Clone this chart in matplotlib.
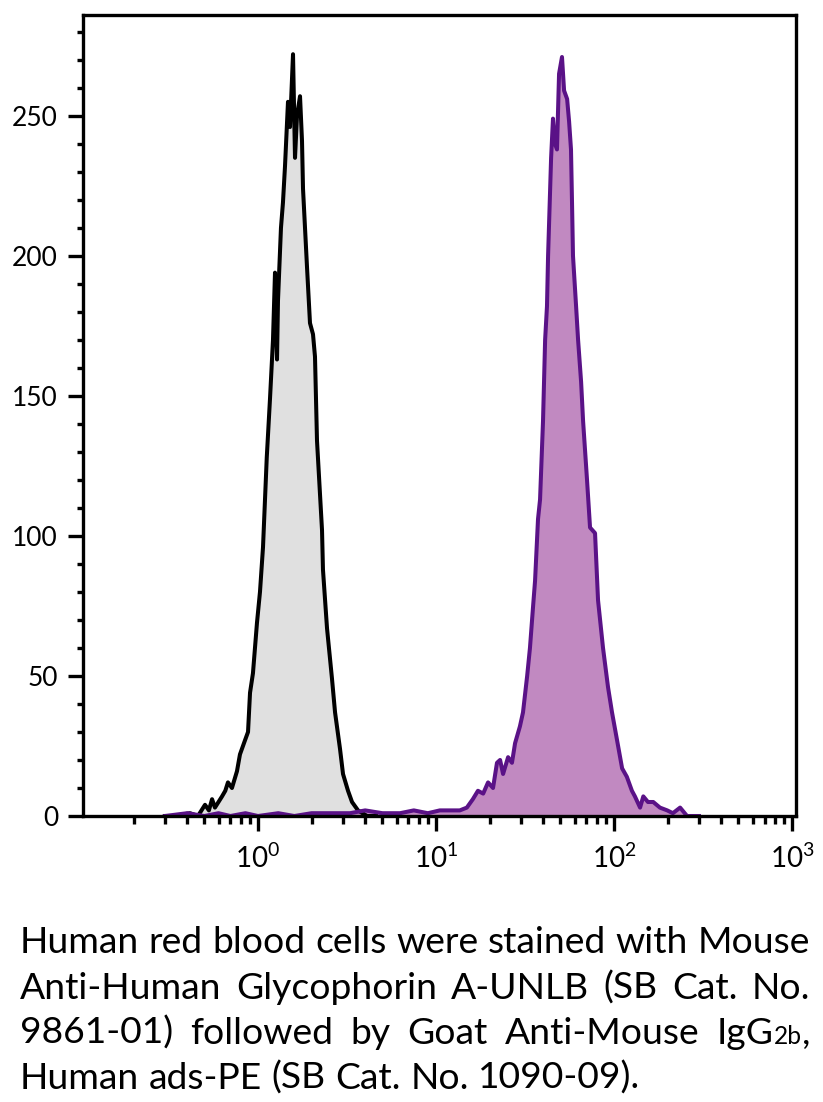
import matplotlib
matplotlib.use("Agg")
import matplotlib.pyplot as plt
from matplotlib.ticker import FixedLocator, FixedFormatter, NullFormatter

FONT = ["Lato", "DejaVu Sans"]

# isotype / unstained control (gray)
ctrl_x = [0.30, 0.342, 0.415, 0.460, 0.504, 0.530, 0.552, 0.573, 0.600, 0.628, 0.655, 0.678,
          0.714, 0.762, 0.792, 0.845, 0.879, 0.902, 0.937, 0.987, 1.026, 1.067, 1.12, 1.168,
          1.214, 1.246, 1.279, 1.295, 1.346, 1.381, 1.418, 1.474, 1.513, 1.573, 1.614, 1.656,
          1.722, 1.767, 1.790, 1.885, 1.959, 2.037, 2.090, 2.145, 2.289, 2.317, 2.442, 2.604,
          2.709, 2.888, 3.003, 3.204, 3.374, 3.646, 4.096, 4.6]
ctrl_y = [0, 0, 1, 0, 4, 2, 6, 3, 5, 7, 9, 12,
          10, 16, 22, 27, 30, 44, 51, 69, 80, 96, 128, 149,
          170, 194, 163, 184, 210, 219, 232, 255, 246, 272, 235, 250,
          257, 241, 224, 196, 176, 172, 164, 134, 102, 88, 67, 49,
          37, 24, 15, 9, 5, 2, 0, 0]

# Glycophorin A stained (purple)
stain_x = [0.30, 0.40, 0.50, 0.60, 0.70, 0.85, 1.0, 1.3, 1.6, 2.0, 2.5, 3.29, 4.0, 5.0,
           6.28, 7.5, 9.0, 10.5, 12.0, 13.6, 14.9, 16.1, 17.2, 18.4, 19.6, 20.9, 22.0,
           22.9, 23.8, 25.4, 26.7, 27.8, 29.6, 30.8, 32.5, 33.7, 35.1, 36.0, 37.4, 38.4,
           39.9, 41.0, 42.0, 42.6, 44.3, 45.4, 46.6, 47.8, 49.1, 51.0, 52.4, 54.5, 55.9,
           57.3, 58.1, 58.8, 61.2, 62.8, 65.3, 67.0, 70.5, 73.3, 78.2, 81.3, 86.7, 92.5,
           97.4, 104, 111, 118, 126, 131, 140, 146, 155, 166, 181, 199, 214, 235, 257, 300]
stain_y = [0, 1, 0, 1, 0, 1, 0, 1, 0, 1, 1, 1, 2, 1,
           1, 2, 1, 2, 2, 2, 3, 6, 9, 8, 12, 10, 19,
           20, 15, 21, 19, 26, 32, 37, 50, 60, 75, 84, 106, 113,
           141, 170, 182, 200, 235, 249, 240, 238, 265, 271, 259, 256, 248,
           238, 218, 200, 182, 170, 155, 141, 120, 103, 101, 77, 60, 46,
           37, 27, 17, 14, 9, 7, 3, 7, 5, 5, 3, 2, 1, 3, 0, 0]

y_major = [0, 50, 100, 150, 200, 250]
y_minor = [10, 20, 30, 40, 60, 70, 80, 90, 110, 120, 130, 140, 160, 170, 180, 190,
           210, 220, 230, 240, 260, 270, 280]
x_major = [1, 10, 100, 1000]
x_major_labels = [r"$\mathregular{10^{0}}$", r"$\mathregular{10^{1}}$",
                  r"$\mathregular{10^{2}}$", r"$\mathregular{10^{3}}$"]

caption = [
    "Human red blood cells were stained with Mouse",
    "Anti-Human Glycophorin A-UNLB (SB Cat. No.",
    "9861-01) followed by Goat Anti-Mouse IgG2b,",
    "Human ads-PE (SB Cat. No. 1090-09).",
]

W, H = 823, 1102
fig = plt.figure(figsize=(W / 100, H / 100), dpi=100)
plt.rcParams["font.family"] = FONT
plt.rcParams["mathtext.fontset"] = "custom"
plt.rcParams["mathtext.rm"] = FONT[0]

ax = fig.add_axes([83 / W, 1 - 816 / H, (796 - 83) / W, (816 - 15) / H])
ax.set_xscale("log")

ax.fill_between(ctrl_x, ctrl_y, 0, color="#e0e0e0", lw=0)
ax.plot(ctrl_x, ctrl_y, color="black", lw=2.9)
ax.fill_between(stain_x, stain_y, 0, color="#c189c1", lw=0)
ax.plot(stain_x, stain_y, color="#5a1287", lw=2.9)

ax.set_xlim(0.104, 1052)
ax.set_ylim(0, 286)

ax.yaxis.set_major_locator(FixedLocator(y_major))
ax.yaxis.set_minor_locator(FixedLocator(y_minor))
ax.xaxis.set_major_locator(FixedLocator(x_major))
ax.xaxis.set_major_formatter(FixedFormatter(x_major_labels))
x_minor = [m * 10 ** d for d in (-1, 0, 1, 2) for m in range(2, 10)]
ax.xaxis.set_minor_locator(FixedLocator(x_minor))
ax.xaxis.set_minor_formatter(NullFormatter())

ax.tick_params(which="major", direction="out", length=11, width=2.4, labelsize=19, pad=7)
ax.tick_params(which="minor", direction="out", width=2.4)
ax.tick_params(axis="y", which="minor", length=4)
ax.tick_params(axis="x", which="minor", length=6)
ax.tick_params(axis="x", which="major", pad=9, labelsize=20)
for s in ax.spines.values():
    s.set_linewidth(2.4)

# justified caption
fig.canvas.draw()
renderer = fig.canvas.get_renderer()


def seg_width(txt, size):
    t = fig.text(0, 0, txt, fontsize=size, family=FONT)
    w = t.get_window_extent(renderer).width
    t.remove()
    return w


left_px, right_px = 20, 810
# pick a size so the first line just fills the width with normal spacing
size = min(30, 28 * (right_px - left_px) / seg_width(caption[0], 28))
small = size * 0.66
special_words = {"IgG2b,": [("IgG", size), ("2b", small), (",", size)]}
baselines = [953, 999, 1044, 1089]
for i, line in enumerate(caption):
    words = line.split(" ")
    segs = [special_words.get(w, [(w, size)]) for w in words]
    widths = [sum(seg_width(t, s) for t, s in sg) for sg in segs]
    if i < len(caption) - 1:
        gap = (right_px - left_px - sum(widths)) / (len(words) - 1)
    else:
        gap = seg_width("a a", size) - 2 * seg_width("a", size)
    x = left_px
    for sg, w in zip(segs, widths):
        xx = x
        for t, s in sg:
            fig.text(xx / W, 1 - baselines[i] / H, t, fontsize=s, family=FONT,
                     ha="left", va="baseline")
            xx += seg_width(t, s)
        x += w + gap

fig.savefig("out.png", dpi=100)
